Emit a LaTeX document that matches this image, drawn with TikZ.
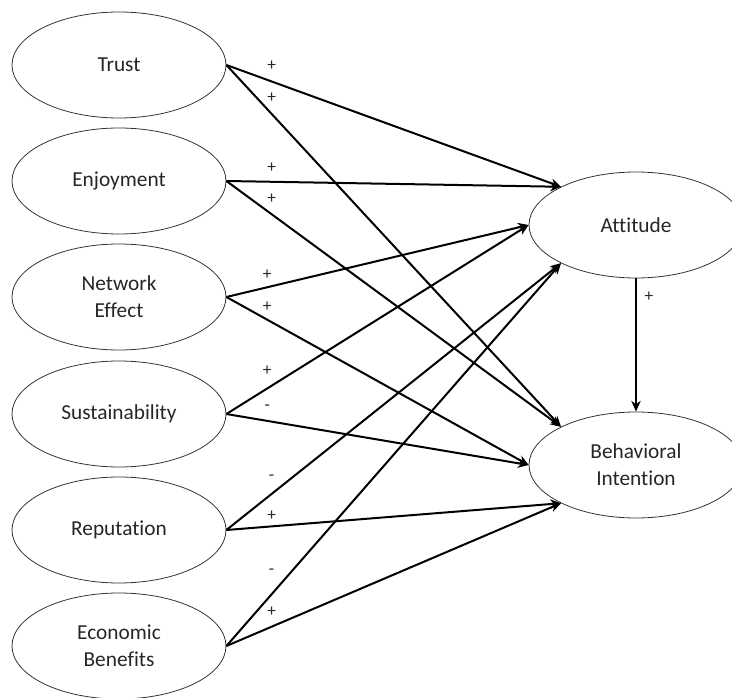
\documentclass[tikz,border=0pt]{standalone}
\usepackage{fontspec}
\setmainfont{Carlito}[Ligatures=NoCommon]
\usepackage{tikz}
\usetikzlibrary{shapes.geometric,arrows.meta}

\begin{document}
\begin{tikzpicture}[x=0.75pt,y=-0.75pt,
  construct/.style={ellipse,draw=black!80,line width=0.6pt,minimum width=160.5pt,minimum height=79.5pt,
    inner sep=0pt,align=center,text=black!85,font=\fontsize{16}{20}\selectfont},
  path/.style={line width=1.5pt,-{Stealth[length=8pt,width=7pt,inset=2.5pt]}},
  sign/.style={pos=0.135,text=black!85,inner sep=0pt,font=\fontsize{13}{14}\selectfont}]
  \clip (0,0) rectangle (732,698);
  \node[construct] (trust)   at (119,65)  {Trust};
  \node[construct] (enjoy)   at (119,181) {Enjoyment};
  \node[construct] (network) at (119,297) {Network\\Effect};
  \node[construct] (sustain) at (119,414) {Sustainability};
  \node[construct] (reput)   at (119,530) {Reputation};
  \node[construct] (econ)    at (119,646) {Economic\\Benefits};
  \node[construct] (att)     at (636,225) {Attitude};
  \node[construct] (bi)      at (636,465) {Behavioral\\Intention};
  \foreach \src/\dst/\sgn/\dy in {trust/att.153/+/16,trust/bi.153/+/16,enjoy/att.153/+/14.5,enjoy/bi.153/+/15,
    network/att.west/+/12.5,network/bi.west/+/12.5,sustain/att.west/+/18,sustain/bi.west/-/13,
    reput/att.207/-/16,reput/bi.207/+/11,econ/att.207/-/23,econ/bi.207/+/15}{
    \draw[path] (\src.east) -- (\dst) node[sign,yshift=\dy*0.75pt] {\sgn};
  }
  \draw[path] (att.south) -- (bi.north) node[sign,pos=0.14,xshift=9.75pt] {+};
\end{tikzpicture}
\end{document}
